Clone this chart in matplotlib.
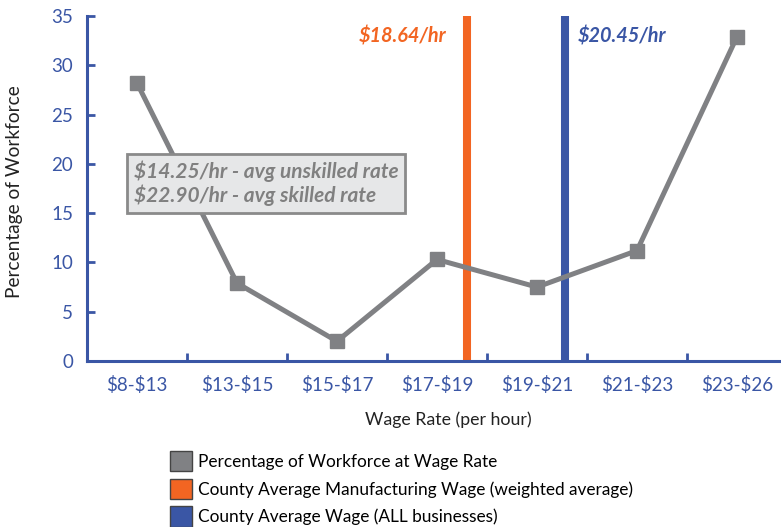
import matplotlib.pyplot as plt
from matplotlib.patches import Patch

# wage bands and share of workforce in each
categories = ['$8-$13', '$13-$15', '$15-$17', '$17-$19', '$19-$21', '$21-$23', '$23-$26']
workforce_pct = [28.2, 7.9, 2.0, 10.3, 7.5, 11.2, 32.9]

# county averages, placed on the category axis
mfg_wage_label = '$18.64/hr'
mfg_wage_pos = 3.295
all_wage_label = '$20.45/hr'
all_wage_pos = 4.28

box_text = '$14.25/hr - avg unskilled rate\n$22.90/hr - avg skilled rate'

legend_labels = ['Percentage of Workforce at Wage Rate',
                 'County Average Manufacturing Wage (weighted average)',
                 'County Average Wage (ALL businesses)']

gray = '#808184'
orange = '#f26522'
blue = '#3a56a5'

plt.rcParams['font.family'] = ['Lato', 'DejaVu Sans']
plt.rcParams['text.parse_math'] = False

fig = plt.figure(figsize=(7.81, 5.27), dpi=100)
ax = fig.add_axes([87/781, 166/527, 700/781, 345/527])

x = list(range(len(categories)))
ax.plot(x, workforce_pct, color=gray, lw=3.6, marker='s', ms=10, zorder=3)

ax.axvline(mfg_wage_pos, ymax=0.995, color=orange, lw=5.8, zorder=2)
ax.axvline(all_wage_pos, ymax=0.995, color=blue, lw=5.8, zorder=2)

ax.text(mfg_wage_pos - 0.2, 32.9, mfg_wage_label, color=orange, fontsize=14.3,
        fontweight='bold', fontstyle='italic', ha='right', va='center')
ax.text(all_wage_pos + 0.13, 32.9, all_wage_label, color=blue, fontsize=14.3,
        fontweight='bold', fontstyle='italic', ha='left', va='center')

ax.text(-0.03, 18.0, box_text, color='#808080', fontsize=15, fontweight='bold',
        fontstyle='italic', ha='left', va='center', linespacing=1.15, zorder=4,
        bbox=dict(boxstyle='square,pad=0.32', fc='#e6e7e8', ec='#8a8a8a', lw=2))

ax.set_xlim(-0.5, 6.5)
ax.set_ylim(0, 35)
ax.set_yticks(range(0, 36, 5))
ax.set_xticks(x)
ax.set_xticklabels(categories)
ax.set_xticks([i + 0.5 for i in range(6)], minor=True)

for s in ['top', 'right']:
    ax.spines[s].set_visible(False)
for s in ['left', 'bottom']:
    ax.spines[s].set_color(blue)
    ax.spines[s].set_linewidth(2.2)

ax.tick_params(axis='y', direction='in', length=6, width=2, color=blue,
               labelcolor=blue, labelsize=13.5, pad=10)
ax.tick_params(axis='x', which='major', length=0, labelcolor=blue,
               labelsize=13.5, pad=11)
ax.tick_params(axis='x', which='minor', direction='in', length=6, width=2, color=blue)

ax.set_xlabel('Wage Rate (per hour)', fontsize=12.8, color='#222222')
ax.xaxis.set_label_coords(361/700, -(411 - 361)/345)
fig.text(15/781, 1 - 192/527, 'Percentage of Workforce', rotation=90,
         fontsize=13.8, ha='center', va='center', color='#222222')

handles = [Patch(fc=gray, ec='#444444', lw=1),
           Patch(fc=orange, ec='#444444', lw=1),
           Patch(fc=blue, ec='#444444', lw=1)]
fig.legend(handles, legend_labels, loc='upper left', bbox_to_anchor=(170/781, 1 - 451/527),
           frameon=False, fontsize=12.4, handlelength=1.25, handleheight=1.45,
           handletextpad=0.35, labelspacing=0.42, borderaxespad=0, borderpad=0)

fig.savefig('out.png', dpi=100)
